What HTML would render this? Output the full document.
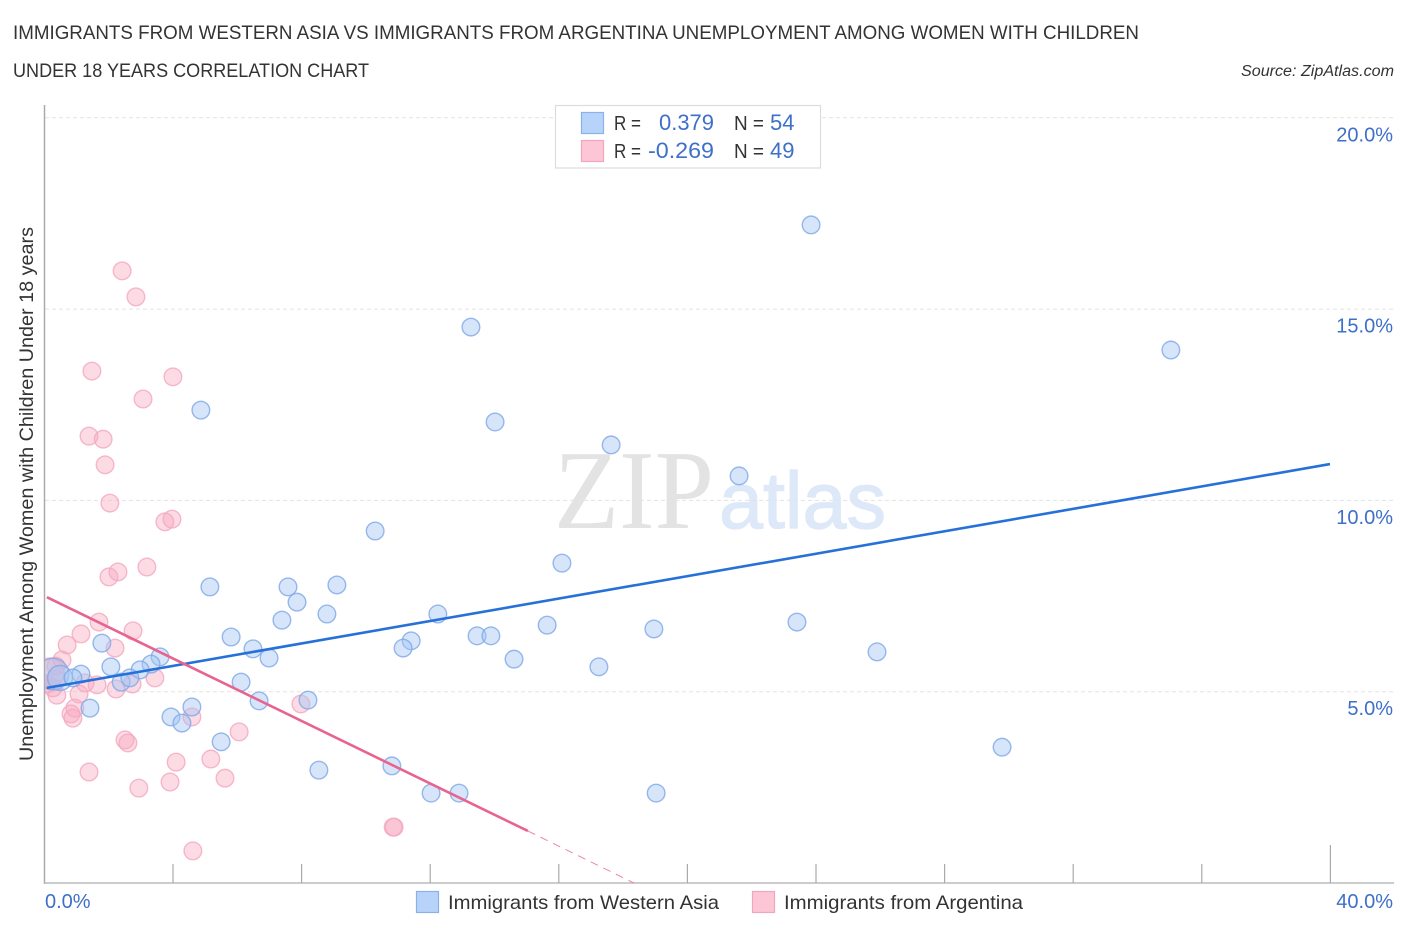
<!DOCTYPE html>
<html>
<head>
<meta charset="utf-8">
<style>
html,body{margin:0;padding:0;background:#fff;}
svg{display:block;font-family:"Liberation Sans",sans-serif;}
</style>
</head>
<body>
<svg id="chart" width="1406" height="930" viewBox="0 0 1406 930" xmlns="http://www.w3.org/2000/svg">
  <rect x="0" y="0" width="1406" height="930" fill="#fff"/>
  <defs><clipPath id="plot-clip"><rect x="45" y="100" width="1349" height="783"/></clipPath></defs>

  <text x="13" y="39" font-size="19" fill="#333" textLength="1126" lengthAdjust="spacingAndGlyphs">IMMIGRANTS FROM WESTERN ASIA VS IMMIGRANTS FROM ARGENTINA UNEMPLOYMENT AMONG WOMEN WITH CHILDREN</text>
  <text x="13" y="77" font-size="19" fill="#333" textLength="356" lengthAdjust="spacingAndGlyphs">UNDER 18 YEARS CORRELATION CHART</text>
  <text x="1394" y="76" font-size="15.5" font-style="italic" fill="#333" text-anchor="end" textLength="153" lengthAdjust="spacingAndGlyphs">Source: ZipAtlas.com</text>

  <g>
    <text x="554" y="528" font-family="'Liberation Serif',serif" font-size="112" fill="#e3e3e3" textLength="160" lengthAdjust="spacingAndGlyphs">ZIP</text>
    <text x="719" y="528" font-size="80" fill="#dde8f8" stroke="#dde8f8" stroke-width="1.2" textLength="167" lengthAdjust="spacingAndGlyphs">atlas</text>
  </g>

  <g id="grid"></g>
  <g id="axes"></g>
  <g id="points" clip-path="url(#plot-clip)"></g>
  <g id="trends"></g>
  <g id="ylabels"></g>

  <text transform="translate(33,761) rotate(-90)" x="0" y="0" font-size="19" fill="#333" textLength="534" lengthAdjust="spacingAndGlyphs">Unemployment Among Women with Children Under 18 years</text>
  <text x="45" y="908" font-size="20" fill="#3e6fc9">0.0%</text>
  <text x="1393" y="908" font-size="20" fill="#3e6fc9" text-anchor="end">40.0%</text>

  <g>
    <rect x="555.5" y="105.5" width="265" height="62.5" fill="#fff" stroke="#ddd" stroke-width="1.2"/>
    <rect x="581.5" y="112.5" width="22" height="21" fill="#b8d3f9" stroke="#8ab2ea" stroke-width="1.2"/>
    <rect x="581.5" y="140.5" width="22" height="21" fill="#fcc6d6" stroke="#f2a6bd" stroke-width="1.2"/>
    <text x="614" y="130" font-size="20" fill="#333" textLength="27" lengthAdjust="spacingAndGlyphs">R =</text>
    <text x="659" y="130" font-size="22" fill="#3e6fc9" textLength="55" lengthAdjust="spacingAndGlyphs">0.379</text>
    <text x="734" y="130" font-size="20" fill="#333" textLength="30" lengthAdjust="spacingAndGlyphs">N =</text>
    <text x="770" y="130" font-size="22" fill="#3e6fc9">54</text>
    <text x="614" y="158" font-size="20" fill="#333" textLength="27" lengthAdjust="spacingAndGlyphs">R =</text>
    <text x="648" y="158" font-size="22" fill="#3e6fc9" textLength="66" lengthAdjust="spacingAndGlyphs">-0.269</text>
    <text x="734" y="158" font-size="20" fill="#333" textLength="30" lengthAdjust="spacingAndGlyphs">N =</text>
    <text x="770" y="158" font-size="22" fill="#3e6fc9">49</text>
  </g>

  <g>
    <rect x="416.5" y="891.5" width="22" height="21" fill="#b8d3f9" stroke="#8ab2ea" stroke-width="1.2"/>
    <text x="448" y="909" font-size="19.5" fill="#333" textLength="271" lengthAdjust="spacingAndGlyphs">Immigrants from Western Asia</text>
    <rect x="752.5" y="891.5" width="22" height="21" fill="#fcc6d6" stroke="#f2a6bd" stroke-width="1.2"/>
    <text x="784" y="909" font-size="19.5" fill="#333" textLength="239" lengthAdjust="spacingAndGlyphs">Immigrants from Argentina</text>
  </g>
</svg>

<script>
// Values are percentages.
const yTickValues = [5, 10, 15, 20];
const yTickLabels = ["5.0%", "10.0%", "15.0%", "20.0%"];
const xTickValues = [0, 4, 8, 12, 16, 20, 24, 28, 32, 36, 40];

const blueX = [23.86,13.28,35.05,4.88,14.03,17.64,21.62,10.30,16.11,5.16,7.59,9.11,7.87,8.80,7.40,12.25,5.82,13.47,13.90,15.65,18.97,23.42,11.42,11.17,6.50,7.00,14.62,17.26,25.91,1.80,2.08,3.61,3.33,2.99,1.15,2.40,2.67,6.13,6.69,8.21,4.60,1.43,3.95,4.29,5.51,8.55,10.82,12.04,12.91,19.04,29.80,0.28,0.50,0.90];
const blueY = [17.20,14.53,13.93,12.36,12.05,11.45,10.64,9.20,8.36,7.74,7.74,7.79,7.34,7.03,6.87,7.03,6.43,6.46,6.46,6.74,6.64,6.82,6.33,6.14,6.12,5.88,5.85,5.65,6.04,6.27,5.65,5.91,5.72,5.57,5.46,5.25,5.36,5.25,4.76,4.78,4.60,4.57,4.34,4.18,3.69,2.95,3.06,2.35,2.35,2.35,3.55,5.46,5.36,5.36];
const blueSize = [1,1,1,1,1,1,1,1,1,1,1,1,1,1,1,1,1,1,1,1,1,1,1,1,1,1,1,1,1,1,1,1,1,1,1,1,1,1,1,1,1,1,1,1,1,1,1,1,1,1,1,3.2,2,1];

const pinkX = [2.43,2.86,1.49,4.01,3.08,1.40,1.84,1.90,2.05,3.76,3.98,3.20,2.02,2.30,1.71,2.77,1.15,0.72,2.21,0.56,0.37,3.45,1.28,1.65,2.24,2.74,1.09,0.40,0.96,0.84,0.90,4.60,7.99,6.07,2.52,2.61,5.19,4.11,1.40,5.63,3.92,2.95,4.63,10.86,10.89,0.19,0.37,0.10,0.28];
const pinkY = [16.00,15.32,13.38,13.23,12.65,11.68,11.60,10.93,9.93,9.44,9.51,8.26,8.00,8.13,6.82,6.59,6.51,6.22,6.14,5.83,5.67,5.36,5.23,5.18,5.07,5.20,4.94,4.91,4.57,4.42,4.31,4.34,4.68,3.95,3.74,3.66,3.24,3.16,2.90,2.74,2.64,2.48,0.84,1.46,1.46,5.51,5.31,5.20,5.10];
const pinkSize = [1,1,1,1,1,1,1,1,1,1,1,1,1,1,1,1,1,1,1,1,1,1,1,1,1,1,1,1,1,1,1,1,1,1,1,1,1,1,1,1,1,1,1,1,1,2.6,1.2,1,1];

const blueTrendX = [0.09, 40];
const blueTrendY = [5.10, 10.95];
const pinkTrendX = [0.09, 15.05];
const pinkTrendY = [7.47, 1.36];
const pinkTrendDashX = [15.05, 18.35];
const pinkTrendDashY = [1.36, 0];

const NS = "http://www.w3.org/2000/svg";
function xScale(v){ return 44 + v * 32.15; }
function yScale(v){ return 883 - v * 38.26; }
function rScale(s){ return 8.8 * Math.sqrt(s); }
function make(tag, parent, attrs){
  const el = document.createElementNS(NS, tag);
  for (const k in attrs) el.setAttribute(k, attrs[k]);
  parent.appendChild(el);
  return el;
}

const gridG = document.getElementById("grid");
const axesG = document.getElementById("axes");
const labelsG = document.getElementById("ylabels");
const pointsG = document.getElementById("points");
const trendsG = document.getElementById("trends");

yTickValues.forEach(function(v, i){
  const line = make("line", gridG, {x1:45, x2:1394, y1:yScale(v), y2:yScale(v), stroke:"#e3e3e3", "stroke-width":1, "stroke-dasharray":"4 3"});
  
  
  const t = make("text", labelsG, {x:1393, y:yScale(v)+23.5, "font-size":20, fill:"#3e6fc9", "text-anchor":"end"});
  t.textContent = yTickLabels[i];
  
  
});

const yAxis = make("line", axesG, {x1:44.5, x2:44.5, y1:105, y2:884, stroke:"#aaa", "stroke-width":1.5});


const xAxis = make("line", axesG, {x1:44, x2:1394, y1:883, y2:883, stroke:"#bbb", "stroke-width":1.5});


xTickValues.forEach(function(v, i){
  if (i === 0) return;
  const top = (i === xTickValues.length - 1) ? 845 : 864;
  const tick = make("line", axesG, {x1:xScale(v)+0.4, x2:xScale(v)+0.4, y1:top, y2:883, stroke:"#aaa", "stroke-width":1.2});
  
  
});

function drawSeries(xs, ys, sizes, fill, fillOpacity, stroke, name){
  xs.forEach(function(x, i){
    const c = make("circle", pointsG, {cx:xScale(x), cy:yScale(ys[i]), r:rScale(sizes[i]), fill:fill, "fill-opacity":fillOpacity, stroke:stroke, "stroke-width":1.4, "stroke-opacity":0.8});
    
    
  });
}
drawSeries(pinkX, pinkY, pinkSize, "#f9a9c0", 0.42, "#f4a8bf", "point-argentina");
drawSeries(blueX, blueY, blueSize, "#a5c6f5", 0.45, "#7ea8e6", "point-western-asia");

const blueTrend = make("line", trendsG, {x1:xScale(blueTrendX[0]), y1:yScale(blueTrendY[0]), x2:xScale(blueTrendX[1]), y2:yScale(blueTrendY[1]), stroke:"#2571d9", "stroke-width":2.6});


const pinkTrend = make("line", trendsG, {x1:xScale(pinkTrendX[0]), y1:yScale(pinkTrendY[0]), x2:xScale(pinkTrendX[1]), y2:yScale(pinkTrendY[1]), stroke:"#e8648f", "stroke-width":2.6});


const pinkDash = make("line", trendsG, {x1:xScale(pinkTrendDashX[0]), y1:yScale(pinkTrendDashY[0]), x2:xScale(pinkTrendDashX[1]), y2:yScale(pinkTrendDashY[1]), stroke:"#ee86a8", "stroke-width":1, "stroke-dasharray":"8 6"});


</script>
</body>
</html>
